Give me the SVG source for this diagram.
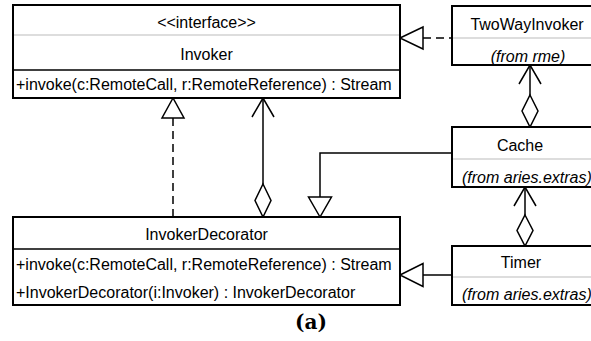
<svg xmlns="http://www.w3.org/2000/svg" width="591" height="341" viewBox="0 0 591 341">
<style>
.box{fill:#fff;stroke:#000;stroke-width:2}
.sep{stroke:#bbb;stroke-width:1}
.sepd{stroke:#000;stroke-width:1.5}
.t{font-family:"Liberation Sans",Arial,sans-serif;font-size:16px;fill:#000}
.c{text-anchor:middle}
.i{font-style:italic}
.ln{fill:none;stroke:#000;stroke-width:1.5}
.hd{fill:#fff;stroke:#000;stroke-width:1.5}
</style>
<rect width="591" height="341" fill="#fff"/>
<g id="connectors">
  <!-- TwoWayInvoker realizes Invoker -->
  <line class="ln" x1="423" y1="38" x2="452" y2="38" stroke-dasharray="8,5"/>
  <polygon class="hd" points="400,38 423,27 423,49"/>
  <!-- InvokerDecorator realizes Invoker -->
  <line class="ln" x1="173" y1="118" x2="173" y2="217" stroke-dasharray="8,5"/>
  <polygon class="hd" points="173,98 162,118 184,118"/>
  <!-- InvokerDecorator aggregates Invoker -->
  <line class="ln" x1="263" y1="98" x2="263" y2="184"/>
  <polyline class="ln" points="252,117 263,98 274,117"/>
  <polygon class="hd" points="263,184 271,200.5 263,217 255,200.5"/>
  <!-- Cache generalizes InvokerDecorator -->
  <polyline class="ln" points="452,153 320,153 320,197"/>
  <polygon class="hd" points="320,217 308.5,197 331.5,197"/>
  <!-- Cache aggregates TwoWayInvoker -->
  <line class="ln" x1="530" y1="65" x2="530" y2="95"/>
  <polyline class="ln" points="519,84 530,65 541,84"/>
  <polygon class="hd" points="530,95 538,111 530,127 522,111"/>
  <!-- Timer aggregates Cache -->
  <line class="ln" x1="525" y1="187" x2="525" y2="215"/>
  <polyline class="ln" points="514,206 525,187 536,206"/>
  <polygon class="hd" points="525,215 533,230.5 525,246 517,230.5"/>
  <!-- Timer generalizes InvokerDecorator -->
  <line class="ln" x1="423" y1="275" x2="452" y2="275"/>
  <polygon class="hd" points="400,275 423,263.5 423,286.5"/>
</g>
<g id="Invoker">
  <rect class="box" x="13" y="5" width="387" height="93"/>
  <line class="sep" x1="14" y1="35" x2="399" y2="35"/>
  <line class="sepd" x1="14" y1="70" x2="399" y2="70"/>
  <text class="t c" x="206.5" y="28">&lt;&lt;interface&gt;&gt;</text>
  <text class="t c" x="206.5" y="60">Invoker</text>
  <text class="t" x="16" y="90">+invoke(c:RemoteCall, r:RemoteReference) : Stream</text>
</g>
<g id="TwoWayInvoker">
  <rect class="box" x="452" y="6" width="150" height="59"/>
  <line class="sep" x1="453" y1="38" x2="601" y2="38"/>
  <text class="t c" x="527" y="30">TwoWayInvoker</text>
  <text class="t c i" x="528" y="62">(from rme)</text>
</g>
<g id="Cache">
  <rect class="box" x="452" y="127" width="140" height="60"/>
  <line class="sep" x1="453" y1="159" x2="591" y2="159"/>
  <text class="t c" x="520" y="151">Cache</text>
  <text class="t i" x="462" y="183">(from aries.extras)</text>
</g>
<g id="Timer">
  <rect class="box" x="452" y="246" width="140" height="59"/>
  <line class="sep" x1="453" y1="277" x2="591" y2="277"/>
  <text class="t c" x="521" y="268">Timer</text>
  <text class="t i" x="462" y="300">(from aries.extras)</text>
</g>
<g id="InvokerDecorator">
  <rect class="box" x="13" y="217" width="387" height="88"/>
  <line class="sepd" x1="14" y1="249" x2="399" y2="249"/>
  <text class="t c" x="206.5" y="240">InvokerDecorator</text>
  <text class="t" x="16" y="270">+invoke(c:RemoteCall, r:RemoteReference) : Stream</text>
  <text class="t" x="16" y="298">+InvokerDecorator(i:Invoker) : InvokerDecorator</text>
</g>
<text x="311" y="329" style="font-family:'DejaVu Serif','Liberation Serif',serif;font-size:20px;font-weight:bold" text-anchor="middle">(a)</text>
</svg>
